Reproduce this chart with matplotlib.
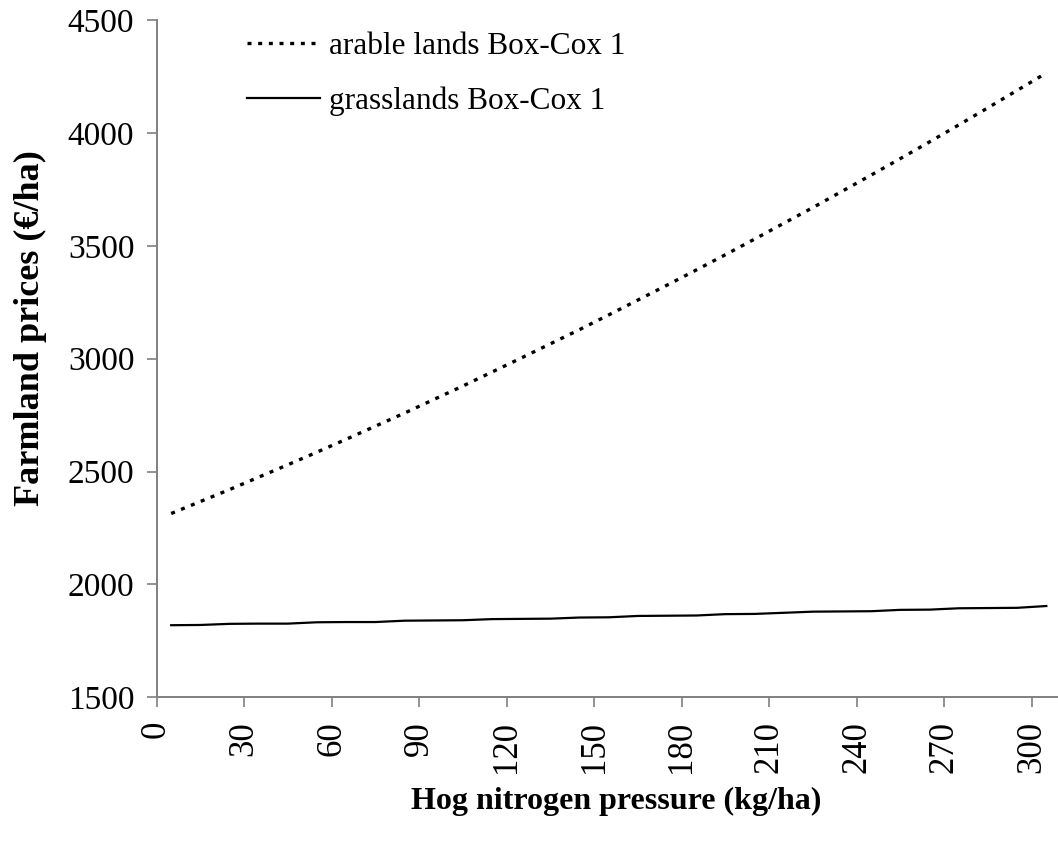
import matplotlib
matplotlib.use('Agg')
import matplotlib.pyplot as plt

# Dados
pressao = [5, 15, 25, 35, 45, 55, 65, 75, 85, 95, 105, 115, 125, 135, 145, 155,
           165, 175, 185, 195, 205, 215, 225, 235, 245, 255, 265, 275, 285, 295, 305]
arable = [2314, 2367, 2420, 2475, 2530, 2586, 2643, 2701, 2759, 2819, 2879, 2941,
          3003, 3066, 3129, 3194, 3260, 3326, 3393, 3461, 3530, 3600, 3670, 3742,
          3814, 3887, 3961, 4036, 4112, 4189, 4266]
grass = [1819, 1820, 1825, 1826, 1826, 1832, 1833, 1833, 1839, 1840, 1841, 1846,
         1847, 1848, 1853, 1854, 1860, 1861, 1862, 1868, 1869, 1874, 1879, 1880,
         1881, 1887, 1888, 1894, 1895, 1896, 1904]
xticks = [0, 30, 60, 90, 120, 150, 180, 210, 240, 270, 300]
yticks = [1500, 2000, 2500, 3000, 3500, 4000, 4500]

plt.rcParams['font.family'] = ['Liberation Serif', 'DejaVu Serif']

fig = plt.figure(figsize=(10.58, 8.41), dpi=100)
ax = fig.add_axes([0.148, 0.171, 0.852, 0.805])

ax.plot(pressao, arable, color='black', lw=2.4, linestyle=(0, (1.2, 2.0)),
        label='arable lands Box-Cox 1')
ax.plot(pressao, grass, color='black', lw=1.6, label='grasslands Box-Cox 1')

ax.set_xlim(0, 309)
ax.set_ylim(1500, 4500)
ax.set_xticks(xticks)
ax.set_yticks(yticks)
ax.set_xticklabels([str(v) for v in xticks], rotation=90, fontsize=25)
ax.set_yticklabels([str(v) for v in yticks], fontsize=24)

for s in ['top', 'right']:
    ax.spines[s].set_visible(False)
for s in ['left', 'bottom']:
    ax.spines[s].set_color('#808080')
    ax.spines[s].set_linewidth(1.4)
ax.tick_params(axis='both', direction='out', length=7, width=1.2, color='#808080')
ax.tick_params(axis='y', pad=9)
ax.tick_params(axis='x', pad=10)

fig.text(0.582, 0.047, 'Hog nitrogen pressure (kg/ha)', fontsize=23,
         fontweight='bold', ha='center', va='center')
fig.text(0.029, 0.610, 'Farmland prices (€/ha)', fontsize=26, fontweight='bold',
         rotation=90, ha='center', va='center')

fig.legend(loc='upper left', bbox_to_anchor=(0.233, 0.962), frameon=False,
           fontsize=22.5, handlelength=2.35, handletextpad=0.3, labelspacing=0.82,
           borderpad=0, borderaxespad=0)

plt.savefig('out.png', dpi=100)
